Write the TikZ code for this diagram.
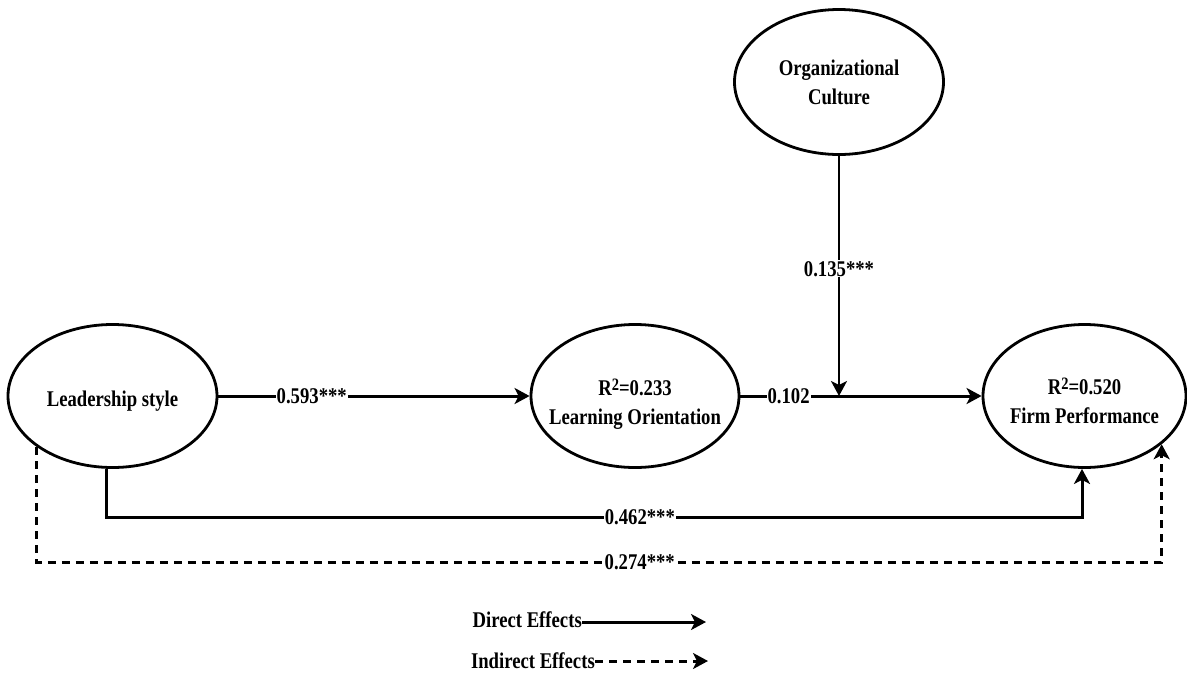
\documentclass[tikz,border=0pt]{standalone}
\usepackage{fontspec}
\setmainfont{Liberation Serif}
\usepackage{graphicx}
\usetikzlibrary{arrows.meta,shapes.geometric}
\newcommand{\vs}[1]{\makebox[0pt]{\scalebox{1}[1.2]{#1}}}
\newcommand{\vt}[1]{\scalebox{1}[1.2]{#1}}
\newcommand{\sqr}{\raisebox{4.5pt}{\fontsize{14.5}{14.5}\selectfont 2}}
\newcommand{\fsz}{\fontsize{18.7}{28.5}\selectfont\bfseries}
\begin{document}
\begin{tikzpicture}[x=1pt,y=-1pt,
  latent/.style={ellipse,draw,line width=2.8pt,inner sep=0pt,minimum width=208pt,minimum height=143pt,align=center,font=\fsz},
  coef/.style={fill=white,inner sep=1pt,font=\fsz},
  legtext/.style={inner sep=0pt,font=\fsz},
  arr/.style={line width=3pt,-{Stealth[length=15pt,width=16pt,inset=4pt]}},
  dashpat/.style={dash pattern=on 8pt off 6pt}]
\useasboundingbox (0,0) rectangle (1187,673);
% constructs
\node[latent,minimum width=209pt] (ls) at (112.5,396) {\rule{0pt}{26pt}\vs{Leadership style}};
\node[latent] (lo) at (635,396) {\rule{0pt}{33pt}\vs{R\sqr=0.233}\\\vs{Learning Orientation}};
\node[latent,minimum width=203pt] (fp) at (1084.5,396) {\rule{0pt}{26.5pt}\vs{R\sqr=0.520}\\\vs{Firm Performance}};
\node[latent,minimum width=209pt,minimum height=145pt] (oc) at (839,82) {\rule{0pt}{16.5pt}\vs{Organizational}\\\vs{Culture}};
% paths
\draw[arr] (ls.east) -- node[coef,pos=0.30]{\vt{0.593***}} (lo.west);
\draw[arr] (lo.east) -- node[coef,pos=0.20]{\vt{0.102}} (fp.west);
\draw[arr,line width=2.4pt] (oc.south) -- node[coef,pos=0.47]{\vt{0.135***}} (oc.south |- lo.east);
\coordinate (b1) at (106,517);
\coordinate (b2) at (1082,517);
\draw[arr] (ls.south -| b1) -- (b1) -- node[coef,pos=0.547]{\vt{0.462***}} (b2) -- (fp.south -| b2);
\coordinate (d1) at (0,562);
\draw[arr,dashpat] (ls.214.7) -- (ls.214.7 |- d1) -- node[coef,pos=0.536]{\vt{0.274***}} (fp.328 |- d1) -- (fp.328);
% legend
\node[legtext,anchor=base east] (de) at (582,627) {\vt{Direct Effects}};
\coordinate (dee) at (706,622);
\draw[arr] (de.east |- dee) -- (dee);
\node[legtext,anchor=base east] (ie) at (595,668) {\vt{Indirect Effects}};
\coordinate (iee) at (708,661);
\draw[arr,dashpat] (ie.east |- iee) -- (iee);
\end{tikzpicture}
\end{document}
